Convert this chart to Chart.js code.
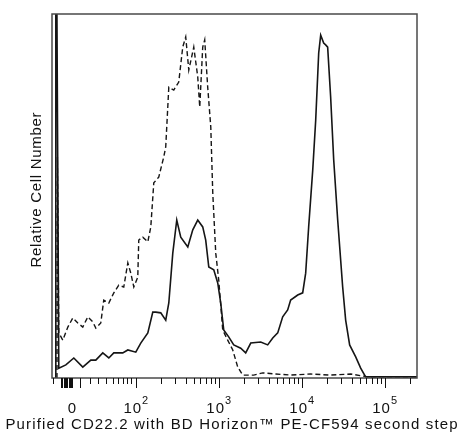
<!DOCTYPE html>
<html>
<head>
<meta charset="utf-8">
<script src="https://cdn.jsdelivr.net/npm/chart.js@4/dist/chart.umd.min.js"></script>
<style>
  html, body { margin: 0; padding: 0; background: #fff; }
  #wrap { width: 461px; height: 435px; }
</style>
</head>
<body>
<div id="wrap"><canvas id="histChart" width="461" height="435"></canvas></div>
<script>
// --- data (x in log-decade display units, y in % of plot height) ---
const isotypeX = [1.050, 1.055, 1.062, 1.072, 1.120, 1.181, 1.241, 1.301, 1.361, 1.422, 1.482, 1.518, 1.578, 1.614, 1.675, 1.735, 1.795, 1.855, 1.904, 1.940, 1.976, 2.024, 2.036, 2.084, 2.145, 2.181, 2.217, 2.277, 2.337, 2.361, 2.398, 2.458, 2.518, 2.566, 2.602, 2.639, 2.699, 2.747, 2.771, 2.807, 2.831, 2.867, 2.904, 2.928, 2.964, 3.000, 3.048, 3.108, 3.169, 3.229, 3.289, 3.422, 3.530, 3.687, 3.867, 4.108, 4.349, 4.590, 4.747, 4.892, 5.398];
const isotypeY = [0, 60.7, 40.0, 12.4, 10.4, 14.0, 16.5, 15.1, 14.0, 16.8, 15.4, 13.7, 15.1, 21.4, 20.6, 23.4, 25.5, 25.0, 31.6, 28.8, 25.0, 27.7, 37.9, 38.7, 37.4, 41.5, 53.6, 55.2, 60.7, 63.5, 79.9, 79.1, 81.3, 90.9, 93.7, 84.6, 90.9, 82.7, 74.4, 90.9, 92.9, 79.9, 69.0, 50.8, 34.3, 26.9, 13.2, 10.4, 7.7, 3.0, 0.8, 0.8, 1.4, 1.1, 0.8, 1.1, 0.8, 1.1, 0.5, 0, 0];

const stainedX = [1.032, 1.036, 1.040, 1.072, 1.157, 1.253, 1.361, 1.458, 1.518, 1.602, 1.675, 1.735, 1.843, 1.904, 2.000, 2.060, 2.145, 2.205, 2.241, 2.301, 2.361, 2.398, 2.446, 2.494, 2.542, 2.627, 2.687, 2.747, 2.807, 2.843, 2.880, 2.940, 2.988, 3.024, 3.060, 3.120, 3.181, 3.265, 3.325, 3.386, 3.506, 3.590, 3.651, 3.711, 3.771, 3.831, 3.867, 3.952, 4.012, 4.048, 4.084, 4.133, 4.169, 4.205, 4.229, 4.265, 4.289, 4.313, 4.349, 4.386, 4.434, 4.494, 4.530, 4.578, 4.651, 4.711, 4.771, 5.398];
const stainedY = [0, 140, 140, 2.7, 3.6, 5.5, 3.0, 4.9, 4.9, 6.9, 5.5, 6.9, 6.9, 7.7, 7.1, 9.6, 12.4, 18.1, 18.1, 17.9, 15.9, 20.6, 34.3, 43.4, 38.7, 36.0, 40.7, 43.4, 41.5, 37.9, 30.5, 29.7, 26.1, 20.6, 13.2, 11.3, 9.1, 8.2, 6.9, 9.6, 9.9, 9.1, 11.0, 12.4, 16.8, 18.7, 21.4, 22.8, 23.4, 28.8, 41.5, 57.1, 70.9, 89.3, 94.2, 92.0, 91.5, 90.9, 77.2, 59.9, 43.4, 25.0, 15.9, 9.1, 5.8, 2.7, 0.3, 0.3];

// axis ticks (display units) and labels
const majorTicks = [1.325, 2, 3, 4, 5];
const zeroBlockTicks = [1.10, 1.115, 1.13, 1.145, 1.16, 1.175, 1.19, 1.205, 1.22, 1.235];
const lowMinorTicks = [1.0, 1.446, 1.542, 1.639, 1.723, 1.783, 1.843, 1.892, 1.940];
const decadeLabels = [2, 3, 4, 5];
const zeroLabelPos = 1.23;

const xTitle = 'Purified CD22.2 with BD Horizon\u2122 PE-CF594 second step';
const yTitle = 'Relative Cell Number';

const FONT = '"Liberation Sans", Arial, sans-serif';

const toPoints = (xs, ys) => xs.map((x, i) => ({ x: x, y: ys[i] }));

// minor log ticks for the decades 10^2 .. 10^5
const minorTicks = [];
for (let dec = 2; dec <= 5; dec++) {
    for (let k = 2; k <= 9; k++) {
        const v = dec + Math.log10(k);
        if (v < 5.39) minorTicks.push(v);
    }
}

// draw text centred at (cx, y), spread out to a target width
const spreadText = (ctx, text, cx, y, targetW) => {
    ctx.letterSpacing = '0px';
    const w = ctx.measureText(text).width;
    const extra = (targetW - w) / Math.max(text.length - 1, 1);
    if ('letterSpacing' in ctx && extra > 0) {
        ctx.letterSpacing = extra.toFixed(2) + 'px';
        const w2 = ctx.measureText(text).width - extra;
        ctx.textAlign = 'left';
        ctx.fillText(text, cx - w2 / 2, y);
        ctx.letterSpacing = '0px';
    } else {
        ctx.textAlign = 'center';
        ctx.fillText(text, cx, y);
    }
};

const flowAxes = {
    id: 'flowAxes',
    afterDraw(chart) {
        const ctx = chart.ctx;
        const a = chart.chartArea;
        const xs = chart.scales.x;
        ctx.save();

        // frame
        ctx.strokeStyle = '#4a4a4a';
        ctx.lineWidth = 1.5;
        ctx.strokeRect(a.left, a.top, a.right - a.left, a.bottom - a.top);

        // ticks
        ctx.strokeStyle = '#111';
        ctx.lineWidth = 1;
        const tick = (v, len) => {
            const px = Math.round(xs.getPixelForValue(v)) + 0.5;
            ctx.beginPath();
            ctx.moveTo(px, a.bottom);
            ctx.lineTo(px, a.bottom + len);
            ctx.stroke();
        };
        majorTicks.forEach(v => tick(v, 10));
        zeroBlockTicks.forEach(v => tick(v, 10));
        lowMinorTicks.forEach(v => tick(v, 6));
        minorTicks.forEach(v => tick(v, 6));

        // tick labels
        ctx.fillStyle = '#111';
        ctx.textBaseline = 'alphabetic';
        ctx.textAlign = 'left';
        const base = a.bottom + 35;
        ctx.font = '15px ' + FONT;
        const zw = ctx.measureText('0').width;
        ctx.fillText('0', xs.getPixelForValue(zeroLabelPos) - zw / 2, base);
        decadeLabels.forEach(n => {
            ctx.font = '15px ' + FONT;
            ctx.letterSpacing = '1px';
            const w10 = ctx.measureText('10').width;
            ctx.font = '11px ' + FONT;
            ctx.letterSpacing = '0px';
            const we = ctx.measureText(String(n)).width;
            const x0 = xs.getPixelForValue(n) - (w10 + we) / 2;
            ctx.font = '15px ' + FONT;
            ctx.letterSpacing = '1px';
            ctx.fillText('10', x0, base);
            ctx.letterSpacing = '0px';
            ctx.font = '11px ' + FONT;
            ctx.fillText(String(n), x0 + w10, base - 9);
        });

        // axis titles
        ctx.font = '15px ' + FONT;
        spreadText(ctx, xTitle, 231.5, 429, 452);
        ctx.translate(41, 190);
        ctx.rotate(-Math.PI / 2);
        spreadText(ctx, yTitle, 0, 0, 155);
        ctx.restore();
    }
};

new Chart(document.getElementById('histChart').getContext('2d'), {
    type: 'line',
    data: {
        datasets: [
            {
                label: 'Isotype',
                data: toPoints(isotypeX, isotypeY),
                borderColor: '#151515',
                borderWidth: 1.4,
                borderDash: [5, 3],
                pointRadius: 0,
                tension: 0,
                fill: false
            },
            {
                label: 'CD22.2',
                data: toPoints(stainedX, stainedY),
                borderColor: '#151515',
                borderWidth: 1.6,
                pointRadius: 0,
                tension: 0,
                fill: false
            }
        ]
    },
    options: {
        responsive: false,
        animation: false,
        layout: { padding: { left: 52, right: 44, top: 14, bottom: 57 } },
        scales: {
            x: { type: 'linear', min: 0.99, max: 5.39, display: false },
            y: { type: 'linear', min: 0, max: 100, display: false }
        },
        plugins: {
            legend: { display: false },
            tooltip: { enabled: false }
        }
    },
    plugins: [flowAxes]
});
</script>
</body>
</html>
